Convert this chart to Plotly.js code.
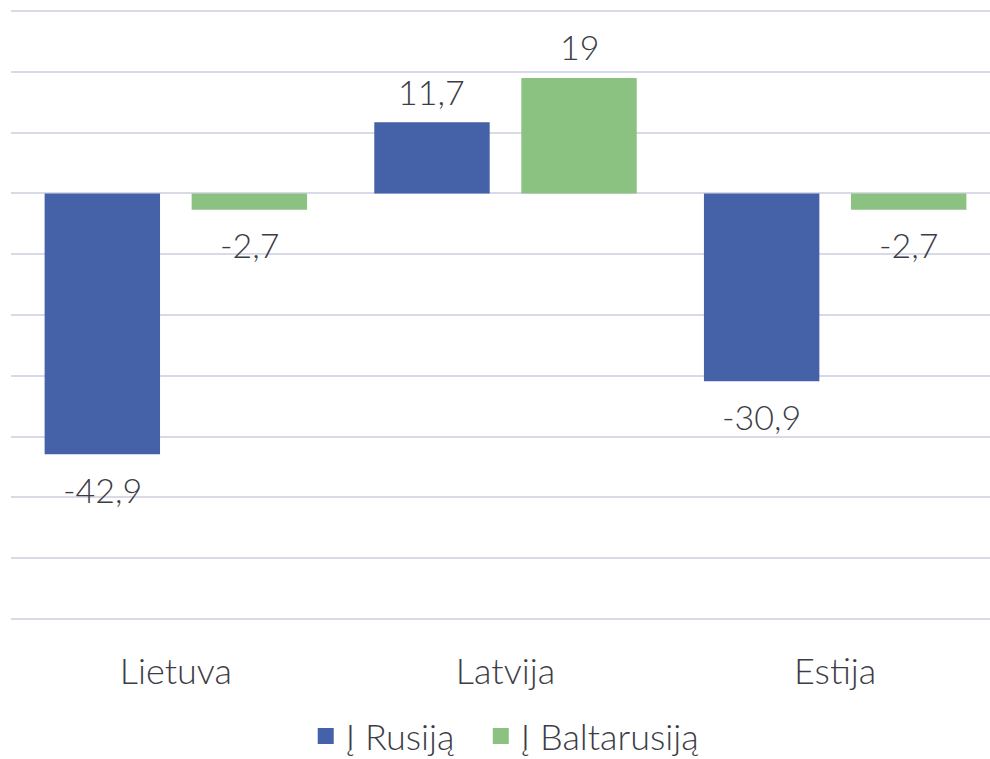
<!DOCTYPE html>
<html>
<head>
<meta charset="utf-8">
<script src="https://cdn.plot.ly/plotly-3.0.1.min.js"></script>
<style>html,body{margin:0;padding:0;overflow:hidden;background:#fff}</style>
</head>
<body>
<div id="chart" style="width:1000px;height:759px"></div>
<script>
const categories = ["Lietuva", "Latvija", "Estija"];
const seriesNames = ["Į Rusiją", "Į Baltarusiją"];
const valuesRussia = [-42.9, 11.7, -30.9];
const valuesBelarus = [-2.7, 19, -2.7];
const colors = ["#4561a8", "#8bc181"];

const fontFamily = "Lato, Roboto, sans-serif";
const textColor = "#3c3c46";
const labelSize = 34;
const axisSize = 36;

const fmt = v => String(v).replace('.', ',');

const traces = [valuesRussia, valuesBelarus].map((vals, i) => ({
  type: 'bar',
  name: seriesNames[i],
  x: categories,
  y: vals,
  marker: {color: colors[i], line: {width: 0}},
  showlegend: false,
  hoverinfo: 'none'
}));
// legend entries with larger square swatches, one legend per series
const legendIds = ['legend', 'legend2'];
seriesNames.forEach((n, i) => traces.push({
  type: 'scatter', mode: 'markers', name: n,
  x: [null], y: [null],
  marker: {symbol: 'square', size: 20, color: colors[i]},
  showlegend: true, hoverinfo: 'none',
  legend: legendIds[i]
}));

const annotations = [];
[valuesRussia, valuesBelarus].forEach((vals, s) => {
  vals.forEach((v, i) => {
    annotations.push({
      x: i + (s === 0 ? -0.223 : 0.223),
      y: v,
      xref: 'x', yref: 'y',
      text: fmt(v),
      showarrow: false,
      yanchor: 'middle',
      yshift: v >= 0 ? 31 : -35,
      font: {family: fontFamily, size: labelSize, color: textColor, weight: 300}
    });
  });
});

const legendBase = {
  orientation: 'h', xanchor: 'left', y: -0.186, yanchor: 'middle',
  font: {family: fontFamily, size: axisSize, color: textColor, weight: 300},
  itemsizing: 'trace', itemwidth: 30, bgcolor: 'rgba(0,0,0,0)'
};

const layout = {
  width: 1000, height: 759,
  margin: {l: 11, r: 0, t: 8, b: 137, autoexpand: false},
  paper_bgcolor: '#fff', plot_bgcolor: '#fff',
  barmode: 'group',
  bargap: 0.108,
  bargroupgap: 0.215,
  showlegend: true,
  legend: Object.assign({}, legendBase, {x: 0.298}),
  legend2: Object.assign({}, legendBase, {x: 0.475}),
  xaxis: {
    type: 'category',
    showgrid: false, showline: false, zeroline: false,
    ticks: '', ticklabelstandoff: 25,
    tickfont: {family: fontFamily, size: axisSize, color: textColor, weight: 300},
    fixedrange: true
  },
  yaxis: {
    range: [-70.5, 30.5], dtick: 10, tick0: 0,
    showticklabels: false, ticks: '',
    showgrid: true, gridcolor: '#d9d9e8', gridwidth: 2,
    zeroline: true, zerolinecolor: '#d9d9e8', zerolinewidth: 2,
    showline: false, fixedrange: true
  },
  annotations: annotations,
  font: {family: fontFamily, color: textColor}
};

Plotly.newPlot('chart', traces, layout, {staticPlot: true, displayModeBar: false});
</script>
</body>
</html>
